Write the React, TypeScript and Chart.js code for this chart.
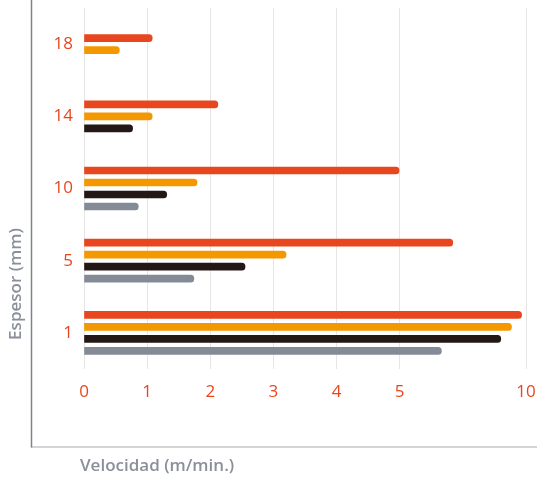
import React, { useEffect, useRef } from "react";
import { Chart, registerables } from "chart.js";

Chart.register(...registerables);

// Thickness categories (mm), top to bottom
const categories = ["18", "14", "10", "5", "1"];

// Bar lengths, in axis position units (0..7, where 7 is labelled "10")
const seriesA = [1.08, 2.12, 4.99, 5.84, 6.93]; // red-orange
const seriesB = [0.56, 1.08, 1.79, 3.2, 6.77]; // orange
const seriesC = [null, 0.77, 1.31, 2.55, 6.6]; // black
const seriesD = [null, null, 0.86, 1.74, 5.66]; // gray

const seriesColors = ["#e8461e", "#f39800", "#231815", "#858b96"];

// x-axis tick positions and their labels
const tickPositions = [0, 1, 2, 3, 4, 5, 7];
const tickLabels = ["0", "1", "2", "3", "4", "5", "10"];

const xTitle = "Velocidad (m/min.)";
const yTitle = "Espesor (mm)";

const FONT = "'Open Sans', 'Noto Sans', sans-serif";

const zeroPad = (scale: any) => {
  scale.paddingLeft = 0;
  scale.paddingRight = 0;
  scale.paddingTop = 0;
  scale.paddingBottom = 0;
};

export default function App() {
  const ref = useRef<HTMLCanvasElement | null>(null);

  useEffect(() => {
    if (!ref.current) return;
    const framePlugin = {
      id: "frame",
      afterDraw(chart: any) {
        const ctx = chart.ctx;
        ctx.save();
        ctx.lineWidth = 1.5;
        ctx.strokeStyle = "#c4c7cb";
        ctx.beginPath();
        ctx.moveTo(31, 447);
        ctx.lineTo(537, 447);
        ctx.stroke();
        ctx.strokeStyle = "#7d838c";
        ctx.beginPath();
        ctx.moveTo(31.5, 0);
        ctx.lineTo(31.5, 447.5);
        ctx.stroke();

        ctx.fillStyle = "#8a8f99";
        ctx.font = `600 17px ${FONT}`;
        ctx.textBaseline = "middle";
        ctx.textAlign = "left";
        ctx.fillText(xTitle, 80, 466);

        ctx.translate(16, 284);
        ctx.rotate(-Math.PI / 2);
        ctx.textAlign = "center";
        ctx.fillText(yTitle, 0, 0);
        ctx.restore();
      },
    };

    const mk = (label: string, data: (number | null)[], color: string) => ({
      label,
      data,
      backgroundColor: color,
      borderRadius: 4,
      borderSkipped: "start" as const,
      barThickness: 12,
      maxBarThickness: 7,
    });

    const chart = new Chart(ref.current, {
      type: "bar",
      data: {
        labels: categories,
        datasets: [
          mk("A", seriesA, seriesColors[0]),
          mk("B", seriesB, seriesColors[1]),
          mk("C", seriesC, seriesColors[2]),
          mk("D", seriesD, seriesColors[3]),
        ],
      },
      options: {
        indexAxis: "y",
        responsive: false,
        animation: false,
        skipNull: true,
        layout: { padding: { top: 8, right: 11, left: 0, bottom: 0 } },
        plugins: {
          legend: { display: false },
          tooltip: { enabled: false },
          title: { display: false },
        },
        scales: {
          x: {
            type: "linear",
            min: 0,
            max: 7,
            afterBuildTicks: (scale: any) => {
              scale.ticks = tickPositions.map((v) => ({ value: v }));
            },
            afterFit: (scale: any) => {
              scale.height = 108;
              zeroPad(scale);
            },
            grid: { color: "#e6e6e6", lineWidth: 1, drawTicks: false },
            border: { display: false },
            ticks: {
              color: "#e8461e",
              font: { family: FONT, size: 17 },
              padding: 13,
              autoSkip: false,
              maxRotation: 0,
              callback: (_v: any, i: number) => tickLabels[i],
            },
          },
          y: {
            afterFit: (scale: any) => {
              scale.width = 84;
              zeroPad(scale);
            },
            grid: { display: false, drawTicks: false },
            border: { display: false },
            ticks: {
              color: "#e8461e",
              font: { family: FONT, size: 17 },
              padding: 11,
            },
          },
        },
      } as any,
      plugins: [framePlugin],
    });
    return () => chart.destroy();
  }, []);

  return (
    <div style={{ position: "fixed", left: 0, top: 0, width: 537, height: 477, background: "#fff" }}>
      <canvas ref={ref} width={537} height={477} style={{ display: "block" }} />
    </div>
  );
}
